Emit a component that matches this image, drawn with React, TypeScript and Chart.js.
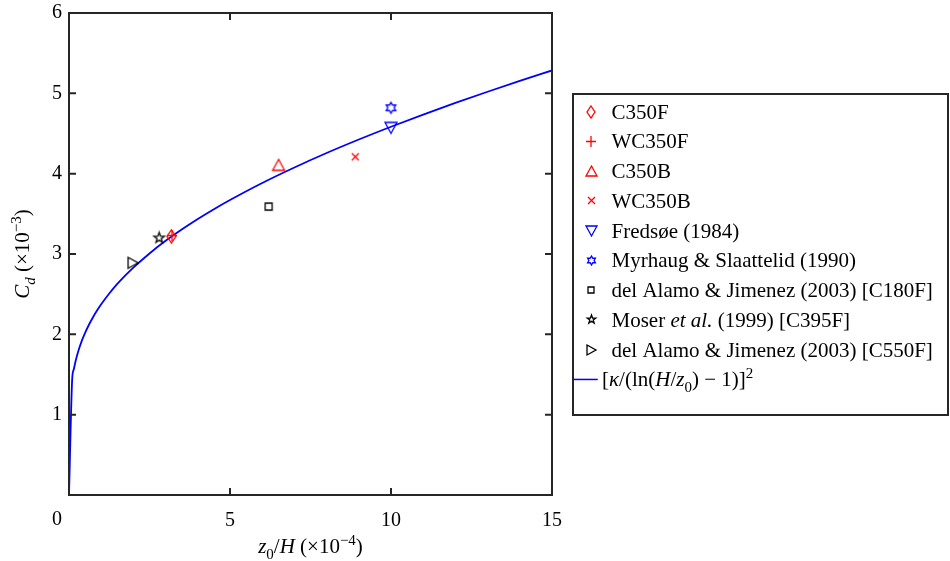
import React, { useEffect, useRef } from "react";
import { Chart, registerables } from "chart.js";

Chart.register(...registerables);

const FONT = '"Liberation Serif", "Times New Roman", serif';

// ---- data (×10^-4 for x, ×10^-3 for y) ----
const xTickValues = [0, 5, 10, 15];
const yTickValues = [0, 1, 2, 3, 4, 5, 6];

const c350fX = [3.18];
const c350fY = [3.22];
const wc350fX = [3.2];
const wc350fY = [3.23];
const c350bX = [6.51];
const c350bY = [4.11];
const wc350bX = [8.89];
const wc350bY = [4.21];
const fredsoeX = [10.0];
const fredsoeY = [4.57];
const myrhaugX = [10.0];
const myrhaugY = [4.82];
const alamo180X = [6.2];
const alamo180Y = [3.59];
const moserX = [2.8];
const moserY = [3.2];
const alamo550X = [1.99];
const alamo550Y = [2.89];

const curveX = [0, 0.1, 0.15, 0.2, 0.25, 0.3, 0.4, 0.5, 0.6, 0.75, 0.9, 1, 1.25, 1.5, 1.75, 2, 2.5, 3, 3.5, 4, 4.5, 5, 6, 7, 8, 9, 10, 11, 12, 13, 14, 15];
const curveY = [0, 1.448, 1.566, 1.659, 1.737, 1.805, 1.921, 2.018, 2.104, 2.216, 2.314, 2.374, 2.508, 2.627, 2.734, 2.831, 3.007, 3.164, 3.305, 3.436, 3.558, 3.672, 3.884, 4.077, 4.257, 4.425, 4.584, 4.736, 4.881, 5.02, 5.155, 5.285];

const seriesLabels = [
  "C350F",
  "WC350F",
  "C350B",
  "WC350B",
  "Fredsøe (1984)",
  "Myrhaug & Slaattelid (1990)",
  "del Alamo & Jimenez (2003) [C180F]",
  "Moser et al. (1999) [C395F]",
  "del Alamo & Jimenez (2003) [C550F]",
];

const RED = "#ff0000";
const BLUE = "#0000ff";
const BLACK = "#000000";
const AXIS = "#262626";

type Seg = { t: string; i?: boolean; s?: "sub" | "sup" };

function makeMarker(kind: string, color: string, w: number, h: number, lw = 1.3) {
  const pad = 2;
  const c = document.createElement("canvas");
  c.width = Math.ceil(w + 2 * pad);
  c.height = Math.ceil(h + 2 * pad);
  const ctx = c.getContext("2d")!;
  ctx.strokeStyle = color;
  ctx.lineWidth = lw;
  ctx.lineJoin = "miter";
  const cx = c.width / 2;
  const cy = c.height / 2;
  const rx = w / 2;
  const ry = h / 2;
  ctx.beginPath();
  if (kind === "diamond") {
    ctx.moveTo(cx, cy - ry);
    ctx.lineTo(cx + rx, cy);
    ctx.lineTo(cx, cy + ry);
    ctx.lineTo(cx - rx, cy);
    ctx.closePath();
  } else if (kind === "plus") {
    ctx.moveTo(cx - rx, cy);
    ctx.lineTo(cx + rx, cy);
    ctx.moveTo(cx, cy - ry);
    ctx.lineTo(cx, cy + ry);
  } else if (kind === "x") {
    ctx.moveTo(cx - rx, cy - ry);
    ctx.lineTo(cx + rx, cy + ry);
    ctx.moveTo(cx + rx, cy - ry);
    ctx.lineTo(cx - rx, cy + ry);
  } else if (kind === "triUp") {
    ctx.moveTo(cx, cy - ry);
    ctx.lineTo(cx + rx, cy + ry);
    ctx.lineTo(cx - rx, cy + ry);
    ctx.closePath();
  } else if (kind === "triDown") {
    ctx.moveTo(cx - rx, cy - ry);
    ctx.lineTo(cx + rx, cy - ry);
    ctx.lineTo(cx, cy + ry);
    ctx.closePath();
  } else if (kind === "triRight") {
    ctx.moveTo(cx - rx, cy - ry);
    ctx.lineTo(cx + rx, cy);
    ctx.lineTo(cx - rx, cy + ry);
    ctx.closePath();
  } else if (kind === "square") {
    ctx.rect(cx - rx, cy - ry, w, h);
  } else if (kind === "pentagram" || kind === "hexagram") {
    const n = kind === "pentagram" ? 5 : 6;
    const inner = kind === "pentagram" ? 0.4 : 0.58;
    for (let k = 0; k < 2 * n; k++) {
      const a = -Math.PI / 2 + (k * Math.PI) / n;
      const r = k % 2 === 0 ? rx : rx * inner;
      const px = cx + r * Math.cos(a);
      const py = cy + r * Math.sin(a);
      if (k === 0) ctx.moveTo(px, py);
      else ctx.lineTo(px, py);
    }
    ctx.closePath();
  }
  ctx.stroke();
  return c;
}

function richWidth(ctx: CanvasRenderingContext2D, segs: Seg[], size: number) {
  let w = 0;
  for (const s of segs) {
    ctx.font = `${s.i ? "italic " : ""}${s.s ? Math.round(size * 0.72) : size}px ${FONT}`;
    w += ctx.measureText(s.t).width;
  }
  return w;
}

function drawRich(
  ctx: CanvasRenderingContext2D,
  segs: Seg[],
  x: number,
  baseline: number,
  size: number,
  align: "left" | "center"
) {
  ctx.save();
  ctx.textBaseline = "alphabetic";
  ctx.textAlign = "left";
  ctx.fillStyle = "#000";
  const total = richWidth(ctx, segs, size);
  let cx = align === "center" ? x - total / 2 : x;
  for (const s of segs) {
    ctx.font = `${s.i ? "italic " : ""}${s.s ? Math.round(size * 0.72) : size}px ${FONT}`;
    const dy = s.s === "sub" ? size * 0.28 : s.s === "sup" ? -size * 0.4 : 0;
    ctx.fillText(s.t, cx, baseline + dy);
    cx += ctx.measureText(s.t).width;
  }
  ctx.restore();
}

export default function App() {
  const ref = useRef<HTMLCanvasElement | null>(null);

  useEffect(() => {
    document.body.style.margin = "0";
    const canvas = ref.current;
    if (!canvas) return;

    const mk = {
      diamond: makeMarker("diamond", RED, 9, 13),
      plus: makeMarker("plus", RED, 10, 11),
      triUp: makeMarker("triUp", RED, 12, 11),
      x: makeMarker("x", RED, 7, 7),
      triDown: makeMarker("triDown", BLUE, 12, 11),
      hexagram: makeMarker("hexagram", BLUE, 11, 11),
      square: makeMarker("square", BLACK, 7, 7),
      pentagram: makeMarker("pentagram", BLACK, 11, 11),
      triRight: makeMarker("triRight", BLACK, 10, 11),
    };
    const mkLegend = {
      diamond: makeMarker("diamond", RED, 8, 12),
      plus: makeMarker("plus", RED, 10, 11),
      triUp: makeMarker("triUp", RED, 11, 10),
      x: makeMarker("x", RED, 7, 7),
      triDown: makeMarker("triDown", BLUE, 11, 10),
      hexagram: makeMarker("hexagram", BLUE, 9, 9),
      square: makeMarker("square", BLACK, 6, 6),
      pentagram: makeMarker("pentagram", BLACK, 9, 9),
      triRight: makeMarker("triRight", BLACK, 9, 10),
    };

    const pts = (xs: number[], ys: number[]) => xs.map((x, i) => ({ x, y: ys[i] }));

    const scatterDefs: { label: string; xs: number[]; ys: number[]; key: keyof typeof mk }[] = [
      { label: seriesLabels[0], xs: c350fX, ys: c350fY, key: "diamond" },
      { label: seriesLabels[1], xs: wc350fX, ys: wc350fY, key: "plus" },
      { label: seriesLabels[2], xs: c350bX, ys: c350bY, key: "triUp" },
      { label: seriesLabels[3], xs: wc350bX, ys: wc350bY, key: "x" },
      { label: seriesLabels[4], xs: fredsoeX, ys: fredsoeY, key: "triDown" },
      { label: seriesLabels[5], xs: myrhaugX, ys: myrhaugY, key: "hexagram" },
      { label: seriesLabels[6], xs: alamo180X, ys: alamo180Y, key: "square" },
      { label: seriesLabels[7], xs: moserX, ys: moserY, key: "pentagram" },
      { label: seriesLabels[8], xs: alamo550X, ys: alamo550Y, key: "triRight" },
    ];

    const legendTexts: Seg[][] = [
      [{ t: seriesLabels[0] }],
      [{ t: seriesLabels[1] }],
      [{ t: seriesLabels[2] }],
      [{ t: seriesLabels[3] }],
      [{ t: seriesLabels[4] }],
      [{ t: seriesLabels[5] }],
      [{ t: seriesLabels[6] }],
      [{ t: "Moser " }, { t: "et al.", i: true }, { t: " (1999) [C395F]" }],
      [{ t: seriesLabels[8] }],
    ];
    const curveLabel: Seg[] = [
      { t: "[" },
      { t: "κ", i: true },
      { t: "/(ln(" },
      { t: "H", i: true },
      { t: "/" },
      { t: "z", i: true },
      { t: "0", s: "sub" },
      { t: ") \u2212 1)]" },
      { t: "2", s: "sup" },
    ];

    const framePlugin = {
      id: "matlabFrame",
      afterDatasetsDraw(chart: any) {
        const ctx: CanvasRenderingContext2D = chart.ctx;
        const { left, right, top, bottom } = chart.chartArea;
        const xs = chart.scales.x;
        const ys = chart.scales.y;
        ctx.save();
        ctx.strokeStyle = AXIS;
        ctx.lineWidth = 2;
        ctx.lineCap = "square";
        ctx.strokeRect(left, top, right - left, bottom - top);
        const tl = 6;
        ctx.beginPath();
        for (const v of xTickValues) {
          const px = xs.getPixelForValue(v);
          ctx.moveTo(px, bottom);
          ctx.lineTo(px, bottom - tl);
          ctx.moveTo(px, top);
          ctx.lineTo(px, top + tl);
        }
        for (const v of yTickValues) {
          const py = ys.getPixelForValue(v);
          ctx.moveTo(left, py);
          ctx.lineTo(left + tl, py);
          ctx.moveTo(right, py);
          ctx.lineTo(right - tl, py);
        }
        ctx.stroke();

        // shared origin label "0"
        ctx.fillStyle = "#000";
        ctx.font = `20px ${FONT}`;
        ctx.textAlign = "center";
        ctx.textBaseline = "top";
        ctx.fillText("0", xs.getPixelForValue(0) - 12, bottom + 15);

        // axis titles
        const xTitle: Seg[] = [
          { t: "z", i: true },
          { t: "0", s: "sub" },
          { t: "/" },
          { t: "H", i: true },
          { t: " (×10" },
          { t: "\u22124", s: "sup" },
          { t: ")" },
        ];
        drawRich(ctx, xTitle, (left + right) / 2, bottom + 58, 21, "center");

        const yTitle: Seg[] = [
          { t: "C", i: true },
          { t: "d", i: true, s: "sub" },
          { t: " (×10" },
          { t: "\u22123", s: "sup" },
          { t: ")" },
        ];
        ctx.save();
        ctx.translate(left - 40, (top + bottom) / 2);
        ctx.rotate(-Math.PI / 2);
        drawRich(ctx, yTitle, 0, 0, 21, "center");
        ctx.restore();

        // legend
        const lx = right + 21;
        const ly = top + 81;
        const lw = 375;
        const lh = 321;
        ctx.fillStyle = "#fff";
        ctx.fillRect(lx, ly, lw, lh);
        ctx.strokeStyle = AXIS;
        ctx.lineWidth = 2;
        ctx.strokeRect(lx, ly, lw, lh);
        const rowStart = ly + 17.7;
        const step = 29.75;
        const size = 21;
        scatterDefs.forEach((d, i) => {
          const yc = rowStart + i * step;
          const img = mkLegend[d.key];
          ctx.drawImage(img, Math.round(lx + 18 - img.width / 2), Math.round(yc - img.height / 2));
          drawRich(ctx, legendTexts[i], lx + 38.5, yc + size * 0.33, size, "left");
        });
        const yc = rowStart + 9 * step;
        ctx.strokeStyle = BLUE;
        ctx.lineWidth = 1.5;
        ctx.beginPath();
        ctx.moveTo(lx + 1, yc);
        ctx.lineTo(lx + 24, yc);
        ctx.stroke();
        drawRich(ctx, curveLabel, lx + 29, yc + size * 0.33, size, "left");
        ctx.restore();
      },
    };

    const datasets: any[] = [
      {
        type: "line",
        label: "curve",
        data: pts(curveX, curveY),
        borderColor: BLUE,
        borderWidth: 1.8,
        pointRadius: 0,
        fill: false,
        cubicInterpolationMode: "monotone",
        order: 10,
      },
      ...scatterDefs.map((d) => ({
        type: "scatter",
        label: d.label,
        data: pts(d.xs, d.ys),
        pointStyle: mk[d.key],
        pointRadius: 5,
        order: 1,
      })),
    ];

    const zeroPad = (s: any) => {
      s.paddingTop = 0;
      s.paddingBottom = 0;
      s.paddingLeft = 0;
      s.paddingRight = 0;
    };

    const chart = new Chart(canvas, {
      type: "scatter",
      data: { datasets },
      plugins: [framePlugin],
      options: {
        animation: false,
        responsive: false,
        devicePixelRatio: 1,
        events: [],
        layout: { padding: { top: 13, right: 398, left: 0, bottom: 0 } },
        plugins: { legend: { display: false }, tooltip: { enabled: false } },
        scales: {
          x: {
            type: "linear",
            min: 0,
            max: 15,
            afterFit: (s: any) => {
              s.height = 66;
              zeroPad(s);
            },
            afterBuildTicks: (s: any) => {
              s.ticks = xTickValues.map((v) => ({ value: v }));
            },
            ticks: {
              font: { family: FONT, size: 20 },
              color: "#000",
              padding: 14,
              maxRotation: 0,
              autoSkip: false,
              callback: (v: any) => (v === 0 ? "" : String(v)),
            },
            grid: { display: false, drawTicks: false },
            border: { display: false },
          },
          y: {
            type: "linear",
            min: 0,
            max: 6,
            afterFit: (s: any) => {
              s.width = 69;
              zeroPad(s);
            },
            afterBuildTicks: (s: any) => {
              s.ticks = yTickValues.map((v) => ({ value: v }));
            },
            ticks: {
              font: { family: FONT, size: 20 },
              color: "#000",
              padding: 7,
              autoSkip: false,
              callback: (v: any) => (v === 0 ? "" : String(v)),
            },
            grid: { display: false, drawTicks: false },
            border: { display: false },
          },
        },
      } as any,
    });
    return () => chart.destroy();
  }, []);

  return (
    <div style={{ width: 950, height: 561, background: "#fff" }}>
      <canvas ref={ref} width={950} height={561} style={{ width: 950, height: 561, display: "block" }} />
    </div>
  );
}
